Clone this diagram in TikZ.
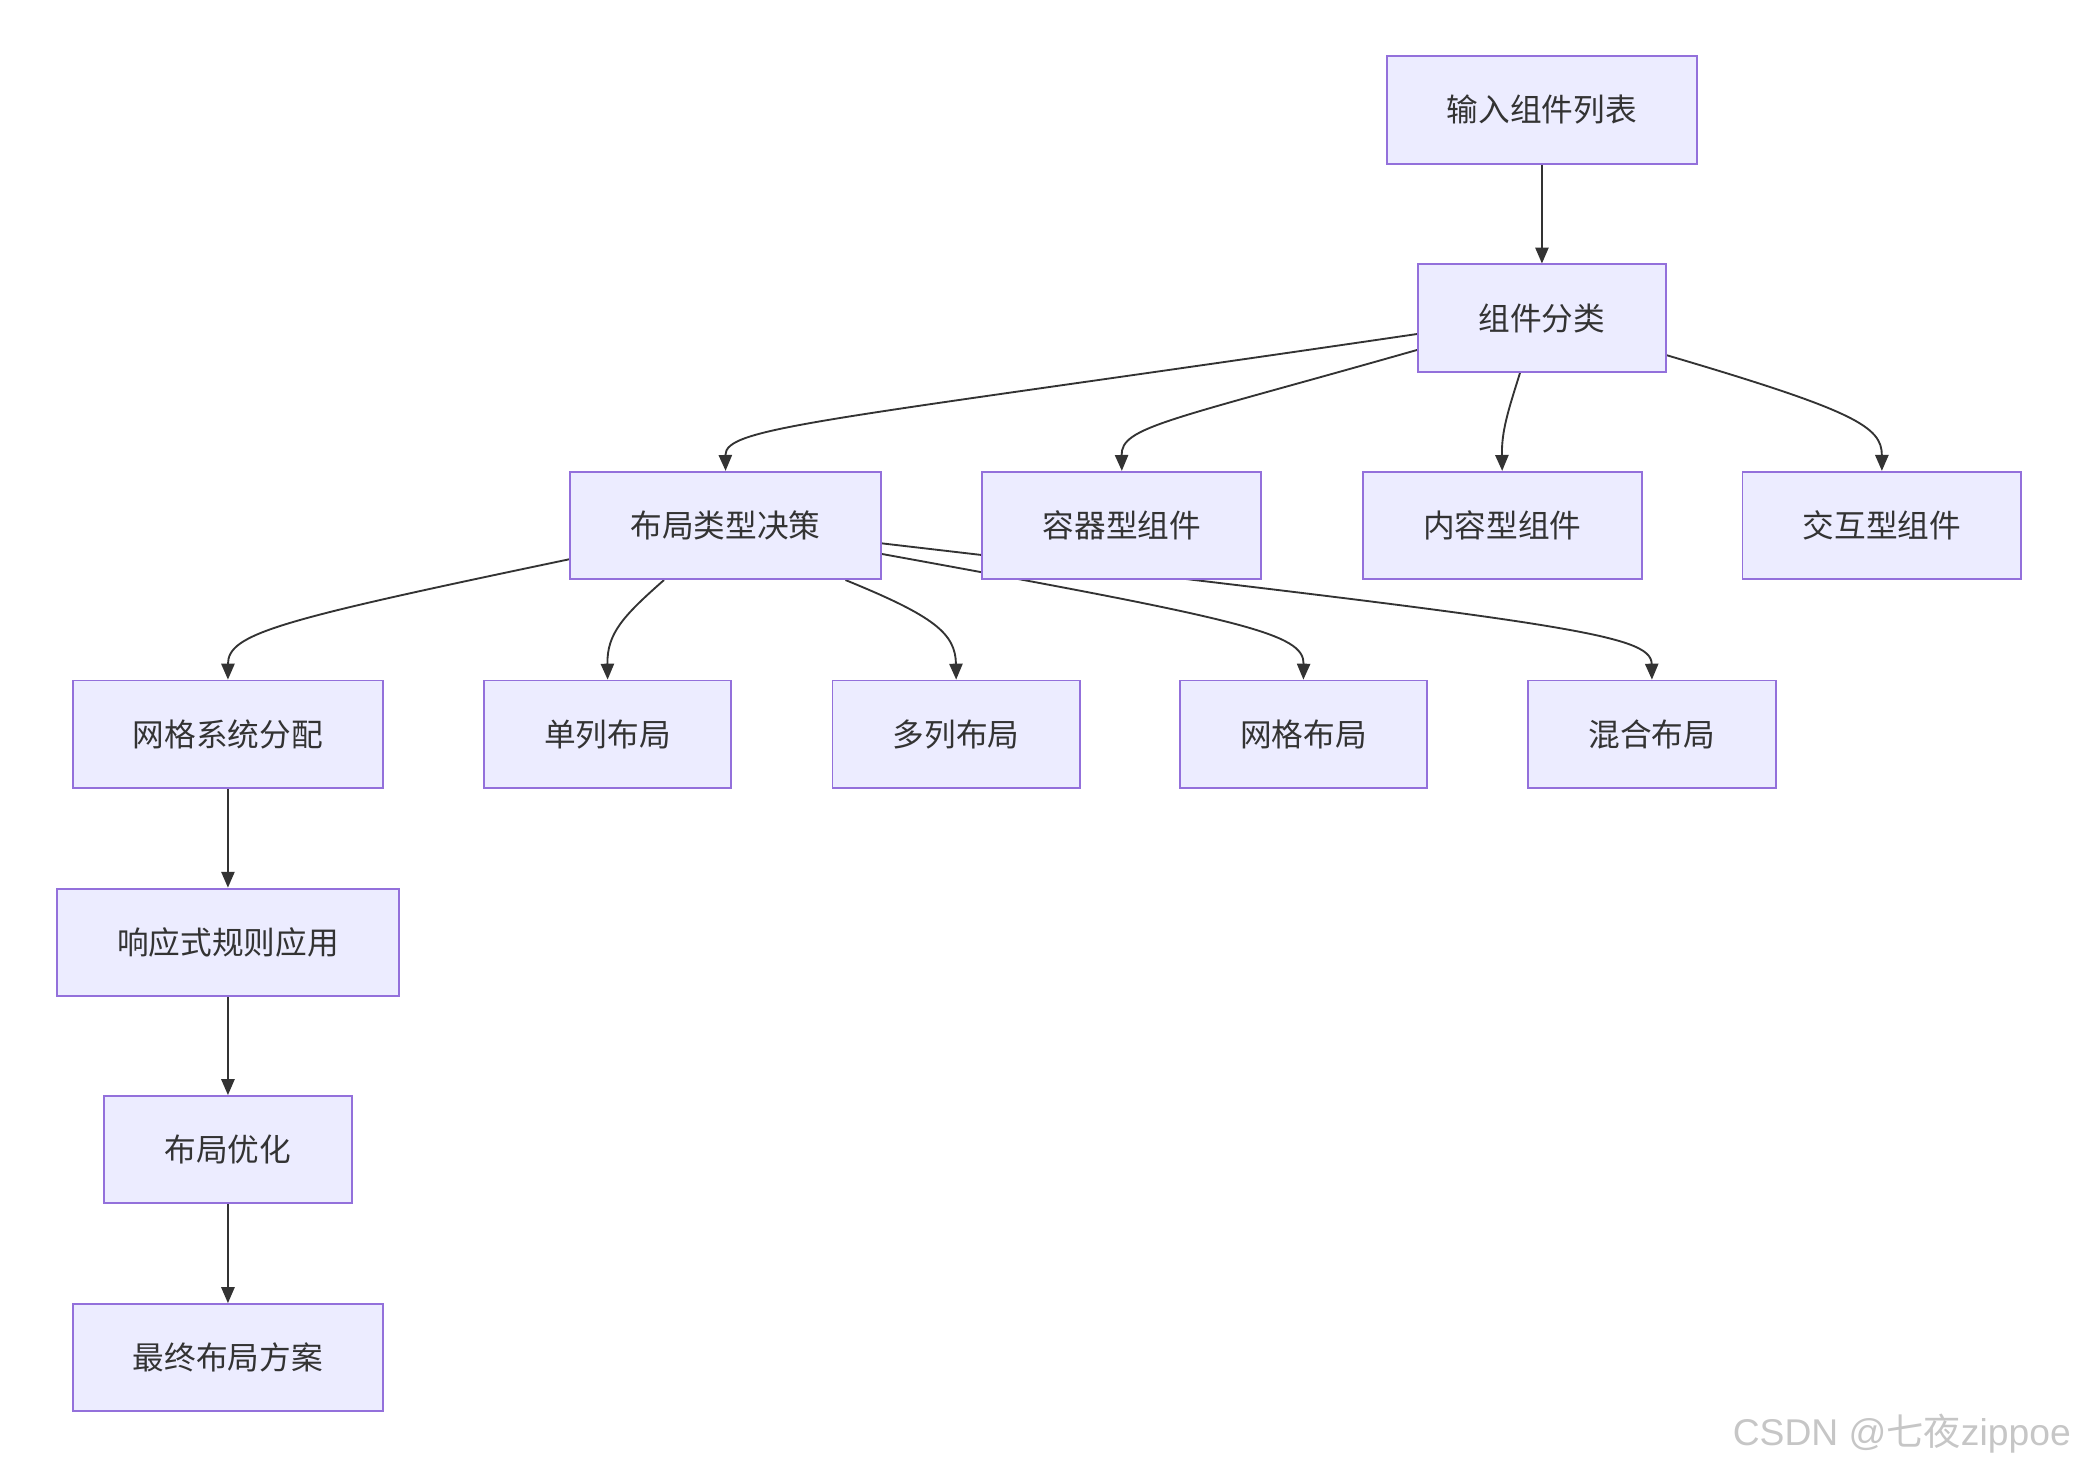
\documentclass[tikz,border=0pt]{standalone}
\usepackage{fontspec}
\setmainfont{Noto Sans CJK SC}
\newfontfamily\latinfont{Liberation Sans}
\newfontfamily\cjkfont{Noto Sans CJK SC}
\usetikzlibrary{arrows.meta,backgrounds}
\definecolor{boxfill}{HTML}{ECECFF}
\definecolor{boxline}{HTML}{9370DB}
\definecolor{edgeline}{HTML}{333333}
\tikzset{
  box/.style = {rectangle, draw=boxline, fill=boxfill, line width=0.8pt,
    text=edgeline, inner xsep=0.91cm, inner ysep=0pt, minimum height=1.62cm,
    font=\fontsize{13.6pt}{16pt}\selectfont},% noeud du schema
  flow/.style = {->, draw=edgeline, line width=0.8pt},% fleche
  wmtext/.style = {text=gray!45, inner sep=0pt,
    font=\fontsize{16pt}{18pt}\selectfont}% filigrane
}

\begin{document}
\begin{tikzpicture}[x=0.02cm,y=-0.02cm,>={Triangle[length=0.24cm,width=0.2cm]}]
\useasboundingbox (0,0) rectangle (1568,1107.7);
\node [box] (input) at (1163.5,83) {输入组件列表};
\node [box] (classify) at (1163.5,240) {组件分类};

\node [box] (decision) at (547.5,396.5) {布局类型决策};
\node [box] (container) at (846.5,396.5) {容器型组件};
\node [box] (content) at (1133.5,396.5) {内容型组件};
\node [box] (interact) at (1420,396.5) {交互型组件};

\node [box] (gridsys) at (172,554) {网格系统分配};
\node [box] (single) at (458.5,554) {单列布局};
\node [box] (multi) at (721.5,554) {多列布局};
\node [box] (grid) at (983.5,554) {网格布局};
\node [box] (mixed) at (1246.5,554) {混合布局};

\node [box] (responsive) at (172,711) {响应式规则应用};
\node [box] (optimize) at (172,867.5) {布局优化};
\node [box] (final) at (172,1024.5) {最终布局方案};

\node [wmtext] (csdn) at (1435,1082) {\latinfont CSDN @\cjkfont 七夜\latinfont zippoe};

\begin{scope}[on background layer]
\draw [flow] (input) -- (classify);
\draw [flow] ([yshift=-0.24cm]classify.west) .. controls (620,318) and (547,322) .. (decision.north);
\draw [flow] ([yshift=-0.48cm]classify.west) .. controls (880,318) and (846,322) .. (container.north);
\draw [flow] ([xshift=-0.33cm]classify.south) .. controls (1138,310) and (1133,325) .. (content.north);
\draw [flow] ([yshift=-0.56cm]classify.east) .. controls (1400,310) and (1420,322) .. (interact.north);

\draw [flow] ([yshift=-0.51cm]decision.west) .. controls (210,468) and (172,478) .. (gridsys.north);
\draw [flow] ([xshift=-0.93cm]decision.south) .. controls (470,465) and (458,478) .. (single.north);
\draw [flow] ([xshift=1.81cm]decision.south) .. controls (705,465) and (721,478) .. (multi.north);
\draw [flow] ([yshift=-0.43cm]decision.east) .. controls (940,468) and (984,478) .. (grid.north);
\draw [flow] ([yshift=-0.27cm]decision.east) .. controls (1180,470) and (1246,478) .. (mixed.north);

\draw [flow] (gridsys) -- (responsive);
\draw [flow] (responsive) -- (optimize);
\draw [flow] (optimize) -- (final);
\end{scope}
\end{tikzpicture}
\end{document}
